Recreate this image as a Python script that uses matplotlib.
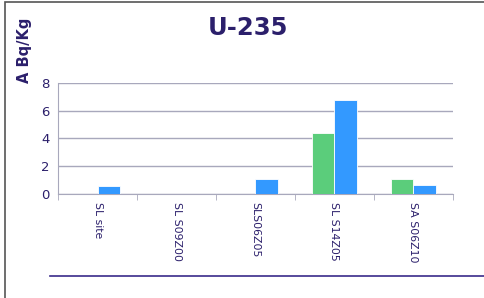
import numpy as np
import matplotlib.pyplot as plt
from matplotlib.lines import Line2D
from matplotlib.patches import Rectangle

categories = ['SL site', 'SL S09Z00', 'SLS06Z05', 'SL S14Z05', 'SA S06Z10']
green_vals = [0, 0, 0, 4.38, 1.1]
blue_vals = [0.55, 0, 1.05, 6.8, 0.64]

navy = '#2b1f6b'
grid_col = '#a8a8bc'

fig = plt.figure(figsize=(4.85, 2.98), dpi=100)
ax = fig.add_axes([0.1196, 0.349, 0.8144, 0.3725])

x = np.arange(len(categories))
w = 0.28
ax.bar(x - w / 2, green_vals, w, color='#5bcd7b', edgecolor='white', linewidth=0.6, zorder=3)
ax.bar(x + w / 2, blue_vals, w, color='#3399ff', edgecolor='white', linewidth=0.6, zorder=3)

ax.set_xlim(-0.5, len(categories) - 0.5)
ax.set_ylim(0, 8)
ax.set_yticks([0, 2, 4, 6, 8])
ax.yaxis.grid(True, color=grid_col, linewidth=1.0, zorder=0)
ax.tick_params(axis='y', length=0, labelsize=9.5, labelcolor=navy, pad=6)

ax.set_xticks(x)
ax.set_xticklabels(categories, rotation=-90, fontsize=7.8, color=navy)
ax.tick_params(axis='x', length=0, pad=6)
ax.set_xticks(np.arange(len(categories) + 1) - 0.5, minor=True)
ax.tick_params(axis='x', which='minor', length=4, color=grid_col)

for s in ['top', 'right']:
    ax.spines[s].set_visible(False)
ax.spines['left'].set_color(grid_col)
ax.spines['bottom'].set_color(grid_col)

fig.text(0.511, 0.905, 'U-235', ha='center', va='center', fontsize=17.5,
         fontweight='bold', color=navy)
fig.text(0.05, 0.832, 'A Bq/Kg', rotation=90, ha='center', va='center',
         fontsize=10.5, fontweight='bold', color=navy)

fig.add_artist(Rectangle((5 / 485, -0.1), 1.2, 1.1 - 1.5 / 298, transform=fig.transFigure,
                         fill=False, edgecolor='#555555', linewidth=1.2))
fig.add_artist(Line2D([50 / 485, 1.0], [1 - 276 / 298, 1 - 276 / 298],
                      transform=fig.transFigure, color='#3a2a8a', linewidth=1.2))

fig.savefig('out.png', dpi=100)
